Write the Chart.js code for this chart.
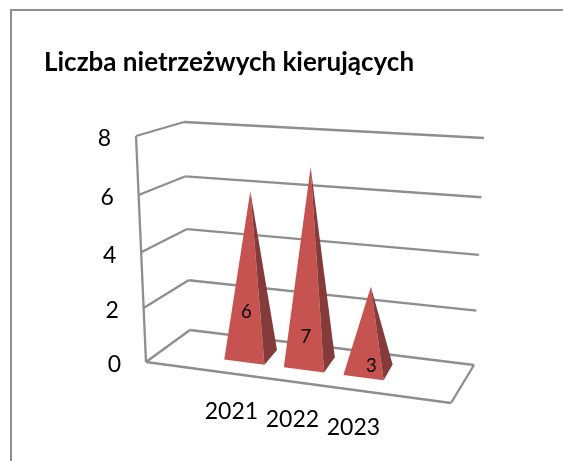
<!DOCTYPE html>
<html lang="pl">
<head>
    <meta charset="UTF-8">
    <title>Liczba nietrzeżwych kierujących</title>
    <style>
        html, body {
            margin: 0;
            padding: 0;
            background: #fff;
            overflow: hidden;
        }
        .frame {
            position: absolute;
            left: 10px;
            top: 9px;
            width: 620px;
            height: 520px;
            border: 2px solid #8e8e8e;
        }
        .wrap {
            position: absolute;
            left: 0;
            top: 0;
            width: 563px;
            height: 461px;
        }
    </style>
    <script src="https://cdn.jsdelivr.net/npm/chart.js"></script>
</head>
<body>
    <div class="frame"></div>
    <div class="wrap"><canvas id="chart" width="563" height="461"></canvas></div>
    <script>
        const categories = ['2021', '2022', '2023'];
        const values = [6, 7, 3];
        const yTicks = [0, 2, 4, 6, 8];
        const chartTitle = 'Liczba nietrzeżwych kierujących';

        // corners of the box on screen: bottom and top of each vertical edge
        const box = {
            frontLeft: [[146, 362], [136, 136]],
            frontRight: [[451, 403], [450, 161]],
            backLeft: [[190, 330], [184, 122]],
            backRight: [[474, 365], [484, 138]]
        };
        const perspective = 1.06;
        // where the first and last category sit along the floor
        const uStart = 0.28, uSpan = 0.4;
        const depthFront = 0.34, depthMid = 0.575, depthBack = 0.76;
        const baseWidth = 0.135, backInset = 0.01;
        // the value labels were moved by hand in the original
        const labelOffsets = [[-7, -42], [-6, -25], [1, -3]];

        const lerp = (a, b, t) => [a[0] + (b[0] - a[0]) * t, a[1] + (b[1] - a[1]) * t];

        // u along the front, w into the depth, t height from 0 to 1
        function project(u, w, t) {
            const s = t / (perspective + (1 - perspective) * t);
            const fl = lerp(box.frontLeft[0], box.frontLeft[1], s);
            const fr = lerp(box.frontRight[0], box.frontRight[1], s);
            const bl = lerp(box.backLeft[0], box.backLeft[1], s);
            const br = lerp(box.backRight[0], box.backRight[1], s);
            return lerp(lerp(fl, fr, u), lerp(bl, br, u), w);
        }

        function poly(ctx, points, color) {
            ctx.beginPath();
            points.forEach((p, i) => i ? ctx.lineTo(p[0], p[1]) : ctx.moveTo(p[0], p[1]));
            ctx.closePath();
            ctx.fillStyle = color;
            ctx.fill();
        }

        function line(ctx, a, b) {
            ctx.beginPath();
            ctx.moveTo(a[0], a[1]);
            ctx.lineTo(b[0], b[1]);
            ctx.stroke();
        }

        const pyramidPlugin = {
            id: 'pyramid',
            afterDatasetsDraw(chart) {
                const ctx = chart.ctx;
                const area = chart.chartArea;
                const yScale = chart.scales.y;
                const toU = x => uStart + uSpan * (x - area.left) / (area.right - area.left);
                const toT = y => (area.bottom - y) / (area.bottom - area.top);

                ctx.save();
                // walls and floor
                ctx.strokeStyle = '#8e8e8e';
                ctx.lineWidth = 2.3;
                yTicks.forEach(v => {
                    const t = toT(yScale.getPixelForValue(v));
                    line(ctx, project(0, 0, t), project(0, 1, t));
                    line(ctx, project(0, 1, t), project(1, 1, t));
                });
                line(ctx, project(0, 0, 0), project(0, 0, 1));
                line(ctx, project(0, 0, 0), project(1, 0, 0));
                line(ctx, project(1, 0, 0), project(1, 1, 0));

                // y tick labels follow the slanted axis
                ctx.fillStyle = '#000';
                ctx.textAlign = 'center';
                ctx.textBaseline = 'middle';
                ctx.font = '23px Lato';
                yTicks.forEach(v => {
                    const p = project(0, 0, toT(yScale.getPixelForValue(v)));
                    ctx.fillText(String(v), p[0] - 31.5, p[1] + 3);
                });

                // one pyramid per bar element
                chart.getDatasetMeta(0).data.forEach((bar, i) => {
                    const u = toU(bar.x);
                    const half = baseWidth / 2;
                    const apex = project(u, depthMid, toT(bar.y));
                    const fl = project(u - half, depthFront, 0);
                    const fr = project(u + half, depthFront, 0);
                    const br = project(u + half - backInset, depthBack, 0);
                    poly(ctx, [apex, fl, fr], '#c65350');
                    poly(ctx, [apex, fr, br], '#843b39');

                    const c = project(u, depthMid, 0);
                    ctx.fillStyle = '#000';
                    ctx.font = '18.5px Lato';
                    ctx.fillText(String(values[i]), c[0] + labelOffsets[i][0], c[1] + labelOffsets[i][1]);

                    const front = project(u, 0, 0);
                    ctx.font = '23px Lato';
                    ctx.fillText(categories[i], front[0], front[1] + 38);
                });
                ctx.restore();
            }
        };

        new Chart(document.getElementById('chart'), {
            type: 'bar',
            data: {
                labels: categories,
                datasets: [{ data: values, backgroundColor: 'transparent', borderWidth: 0 }]
            },
            options: {
                responsive: false,
                animation: false,
                layout: { padding: { left: 44, top: 47, right: 10, bottom: 10 } },
                plugins: {
                    legend: { display: false },
                    tooltip: { enabled: false },
                    title: {
                        display: true,
                        text: chartTitle,
                        align: 'start',
                        color: '#000',
                        font: { family: 'Lato', size: 26, weight: 'bold' },
                        padding: { top: 0, bottom: 20 }
                    }
                },
                scales: {
                    x: { display: false, offset: false },
                    y: {
                        display: false,
                        min: 0,
                        max: 8,
                        afterBuildTicks(axis) {
                            axis.ticks = yTicks.map(v => ({ value: v }));
                        }
                    }
                }
            },
            plugins: [pyramidPlugin]
        });
    </script>
</body>
</html>
